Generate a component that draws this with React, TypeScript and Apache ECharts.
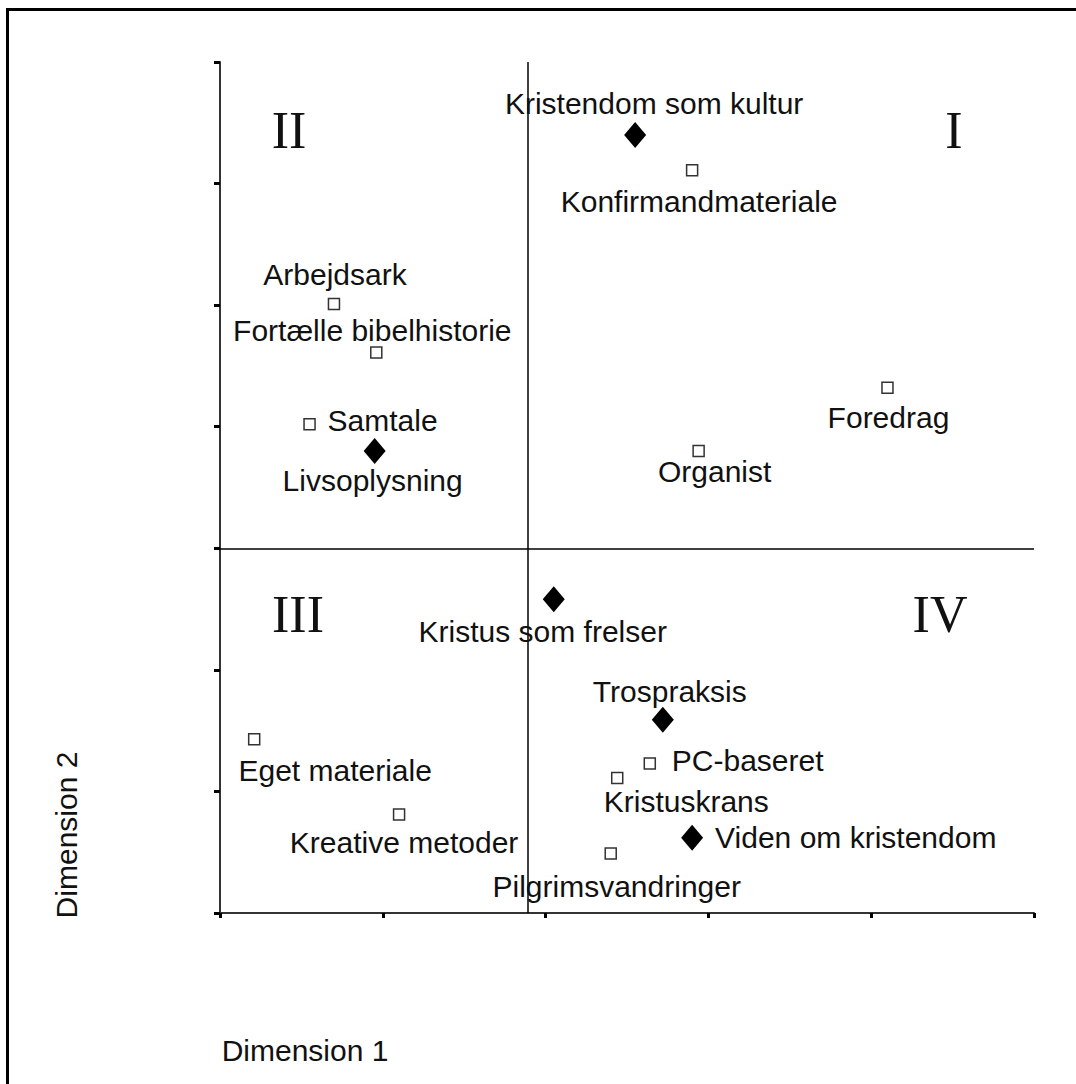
import React, { useEffect, useRef } from "react";
import * as echarts from "echarts";

// Concepts (filled diamonds)
const conceptNames = [
  "Kristendom som kultur",
  "Livsoplysning",
  "Kristus som frelser",
  "Trospraksis",
  "Viden om kristendom",
];
const conceptX = [2.55, 0.95, 2.05, 2.72, 2.9];
const conceptY = [6.4, 3.8, 2.58, 1.59, 0.62];

// Methods (open squares)
const methodNames = [
  "Konfirmandmateriale",
  "Arbejdsark",
  "Fortælle bibelhistorie",
  "Samtale",
  "Foredrag",
  "Organist",
  "Eget materiale",
  "PC-baseret",
  "Kristuskrans",
  "Kreative metoder",
  "Pilgrimsvandringer",
];
const methodX = [2.9, 0.7, 0.96, 0.55, 4.1, 2.94, 0.21, 2.64, 2.44, 1.1, 2.4];
const methodY = [6.11, 5.01, 4.61, 4.02, 4.32, 3.8, 1.43, 1.23, 1.11, 0.81, 0.49];

// Origin of the two dimensions (crosshair)
const originX = 1.89;
const originY = 3;

const quadrantLabels = ["I", "II", "III", "IV"];
const axisTitles = ["Dimension 1", "Dimension 2"];

// Label layout (pixel offsets from the marker)
const labelLayout: Record<string, { offset: number[]; align?: string }> = {
  "Kristendom som kultur": { offset: [19, -31] },
  Livsoplysning: { offset: [-2, 29] },
  "Kristus som frelser": { offset: [-11, 32] },
  Trospraksis: { offset: [7, -28] },
  "Viden om kristendom": { offset: [23, 0], align: "left" },
  Konfirmandmateriale: { offset: [7, 31] },
  Arbejdsark: { offset: [1, -29] },
  "Fortælle bibelhistorie": { offset: [-4, -22] },
  Samtale: { offset: [18, -4], align: "left" },
  Foredrag: { offset: [1, 30] },
  Organist: { offset: [16, 20] },
  "Eget materiale": { offset: [81, 31] },
  "PC-baseret": { offset: [22, -3], align: "left" },
  Kristuskrans: { offset: [69, 23] },
  "Kreative metoder": { offset: [5, 28] },
  Pilgrimsvandringer: { offset: [6, 33] },
};

const FONT = "'Liberation Sans', Arial, sans-serif";
const SERIF = "'Liberation Serif', 'Times New Roman', serif";

function buildData(names: string[], xs: number[], ys: number[]) {
  return names.map((n, i) => {
    const l = labelLayout[n] || { offset: [0, 0] };
    return {
      name: n,
      value: [xs[i], ys[i]],
      label: {
        show: true,
        position: "inside",
        offset: l.offset,
        align: l.align || "center",
        verticalAlign: "middle",
        formatter: "{b}",
        fontFamily: FONT,
        fontSize: 30,
        color: "#111",
      },
    };
  });
}

export default function App() {
  const ref = useRef<HTMLDivElement>(null);
  useEffect(() => {
    if (!ref.current) return;
    const chart = echarts.init(ref.current, undefined, { renderer: "svg" });
    chart.setOption({
      animation: false,
      backgroundColor: "#ffffff",
      grid: { left: 220, top: 62, width: 814, height: 851, containLabel: false },
      xAxis: {
        type: "value",
        min: 0,
        max: 5,
        interval: 1,
        axisLine: { show: true, onZero: false, lineStyle: { color: "#333", width: 2 } },
        axisTick: { show: true, length: 5, lineStyle: { color: "#000", width: 3 } },
        axisLabel: { show: false },
        splitLine: { show: false },
      },
      yAxis: {
        type: "value",
        min: 0,
        max: 7,
        interval: 1,
        axisLine: { show: true, onZero: false, lineStyle: { color: "#333", width: 2 } },
        axisTick: { show: true, length: 6, lineStyle: { color: "#000", width: 3 } },
        axisLabel: { show: false },
        splitLine: { show: false },
      },
      series: [
        {
          type: "scatter",
          name: "Metoder",
          symbol: "rect",
          symbolSize: 11,
          itemStyle: { color: "#fff", borderColor: "#333", borderWidth: 1.5, opacity: 1 },
          data: buildData(methodNames, methodX, methodY),
          markLine: {
            silent: true,
            symbol: ["none", "none"],
            label: { show: false },
            lineStyle: { color: "#000", width: 1.5, type: "solid" },
            data: [{ xAxis: originX }, { yAxis: originY }],
            z: 1,
          },
          z: 3,
        },
        {
          type: "scatter",
          name: "Begreber",
          symbol: "diamond",
          symbolSize: [22, 26],
          itemStyle: { color: "#000", opacity: 1 },
          data: buildData(conceptNames, conceptX, conceptY),
          z: 4,
        },
      ],
      graphic: [
        {
          type: "rect",
          shape: { x: 7.5, y: 9.5, width: 1200, height: 1200 },
          style: { fill: "none", stroke: "#000", lineWidth: 3 },
          silent: true,
        },
        {
          type: "text",
          x: 954,
          y: 130,
          style: { text: quadrantLabels[0], font: `52px ${SERIF}`, fill: "#111", textAlign: "center", textVerticalAlign: "middle" },
        },
        {
          type: "text",
          x: 289,
          y: 130,
          style: { text: quadrantLabels[1], font: `52px ${SERIF}`, fill: "#111", textAlign: "center", textVerticalAlign: "middle" },
        },
        {
          type: "text",
          x: 298,
          y: 614,
          style: { text: quadrantLabels[2], font: `52px ${SERIF}`, fill: "#111", textAlign: "center", textVerticalAlign: "middle" },
        },
        {
          type: "text",
          x: 940,
          y: 614,
          style: { text: quadrantLabels[3], font: `52px ${SERIF}`, fill: "#111", textAlign: "center", textVerticalAlign: "middle" },
        },
        {
          type: "text",
          x: 305,
          y: 1050,
          style: { text: axisTitles[0], font: `30px ${FONT}`, fill: "#111", textAlign: "center", textVerticalAlign: "middle" },
        },
        {
          type: "text",
          x: 66,
          y: 835,
          rotation: Math.PI / 2,
          style: { text: axisTitles[1], font: `30px ${FONT}`, fill: "#111", textAlign: "center", textVerticalAlign: "middle" },
        },
      ],
    });
    return () => chart.dispose();
  }, []);
  return (
    <div
      ref={ref}
      style={{ position: "absolute", left: 0, top: 0, width: 1076, height: 1084, background: "#fff" }}
    />
  );
}
